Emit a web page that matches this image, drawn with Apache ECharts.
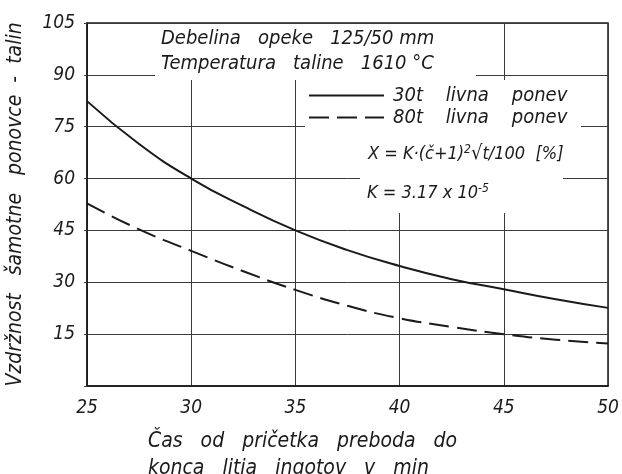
<!DOCTYPE html>
<html>
<head>
<meta charset="utf-8">
<script src="https://cdn.jsdelivr.net/npm/echarts@6/dist/echarts.min.js"></script>
<style>
html,body{margin:0;padding:0;background:#fff;}
#c{width:622px;height:474px;}
</style>
</head>
<body>
<div id="c"></div>
<script>
const xValues = [25, 27.5, 30, 32.5, 35, 37.5, 40, 42.5, 45, 47.5, 50];
const ladle30t = [82.4, 70.0, 60.0, 52.0, 45.0, 39.3, 34.7, 30.9, 28.0, 25.1, 22.6];
const ladle80t = [52.8, 45.3, 39.1, 33.2, 27.8, 23.2, 19.6, 17.1, 15.0, 13.4, 12.3];
const seriesNames = ['30t    livna    ponev', '80t    livna    ponev'];
const yTicks = [15, 30, 45, 60, 75, 90, 105];
const xTicks = [25, 30, 35, 40, 45, 50];

const FONT = '"DejaVu Sans Condensed", "Liberation Sans Narrow", "DejaVu Sans"';
const INK = '#1a1a1a';
const chart = echarts.init(document.getElementById('c'));
const pairs = arr => xValues.map((x, i) => [x, arr[i]]);

chart.setOption({
  backgroundColor: '#fff',
  animation: false,
  grid: {left: 87, right: 14, top: 23, bottom: 88, show: true, borderColor: INK, borderWidth: 1.5,
    containLabel: false, outerBoundsMode: 'none'},
  xAxis: {
    type: 'value', min: 25, max: 50, interval: 5,
    axisLine: {lineStyle: {color: INK, width: 1.5}},
    axisTick: {show: false},
    splitLine: {lineStyle: {color: '#3a3a3a', width: 1}},
    axisLabel: {color: INK, fontFamily: FONT, fontStyle: 'italic', fontSize: 19, margin: 13,
      formatter: v => xTicks.includes(v) ? String(v) : ''}
  },
  yAxis: {
    type: 'value', min: 0, max: 105, interval: 15,
    axisLine: {show: true, lineStyle: {color: INK, width: 1.5}},
    axisTick: {show: true, length: 3, lineStyle: {color: '#3a3a3a', width: 1}},
    splitLine: {lineStyle: {color: '#3a3a3a', width: 1}},
    axisLabel: {color: INK, fontFamily: FONT, fontStyle: 'italic', fontSize: 19, margin: 12,
      formatter: v => yTicks.includes(v) ? String(v) : ''},
    name: 'Vzdržnost   šamotne   ponovce  -  talin',
    nameLocation: 'middle', nameGap: 61, nameRotate: 90,
    nameTextStyle: {color: INK, fontFamily: FONT, fontStyle: 'italic', fontSize: 21}
  },
  legend: {
    left: 302, top: 83, orient: 'vertical', itemWidth: 75, itemHeight: 12, itemGap: 1,
    padding: [2, 8, 2, 6],
    itemStyle: {opacity: 0},
    textStyle: {color: INK, fontFamily: FONT, fontStyle: 'italic', fontSize: 20, lineHeight: 21, padding: [0, 0, 0, 4]},
    data: seriesNames
  },
  graphic: [
    {type: 'rect', z: 1, shape: {x: 155, y: 24, width: 321, height: 56}, style: {fill: '#fff'}},
    {type: 'rect', z: 1, shape: {x: 305, y: 80, width: 276, height: 53}, style: {fill: '#fff'}},
    {type: 'rect', z: 1, shape: {x: 360, y: 133, width: 203, height: 80}, style: {fill: '#fff'}},
    {type: 'text', left: 161, top: 26, z: 100,
      style: {text: 'Debelina   opeke   125/50 mm\nTemperatura   taline   1610 °C', fill: INK,
        font: 'italic 20px ' + FONT, lineHeight: 25}},
    {type: 'text', left: 368, top: 144, z: 100,
      style: {rich: {
          a: {font: 'italic 18px ' + FONT, fill: INK},
          s: {font: 'italic 12px ' + FONT, fill: INK, verticalAlign: 'top', padding: [0, 0, 8, 0]},
          r: {font: 'italic 20px ' + FONT, fill: INK}
        },
        text: '{a|X = K·(č+1)}{s|2}{r|√}{a|t/100  [%]}'}},
    {type: 'text', left: 367, top: 183, z: 100,
      style: {rich: {
          a: {font: 'italic 18px ' + FONT, fill: INK},
          s: {font: 'italic 12px ' + FONT, fill: INK, padding: [0, 0, 8, 0]}
        },
        text: '{a|K = 3.17 x 10}{s|-5}'}},
    {type: 'text', left: 148, top: 428, z: 100,
      style: {text: 'Čas   od   pričetka   preboda   do\nkonca   litja   ingotov   v   min', fill: INK,
        font: 'italic 21px ' + FONT, lineHeight: 27}}
  ],
  series: [
    {name: seriesNames[0], type: 'line', smooth: true, showSymbol: false, symbol: 'none', z: 3,
      data: pairs(ladle30t), lineStyle: {color: INK, width: 2, type: 'solid'}, itemStyle: {color: INK}},
    {name: seriesNames[1], type: 'line', smooth: true, showSymbol: false, symbol: 'none', z: 3,
      data: pairs(ladle80t), lineStyle: {color: INK, width: 2, type: [20, 8]}, itemStyle: {color: INK}}
  ]
});
</script>
</body>
</html>
